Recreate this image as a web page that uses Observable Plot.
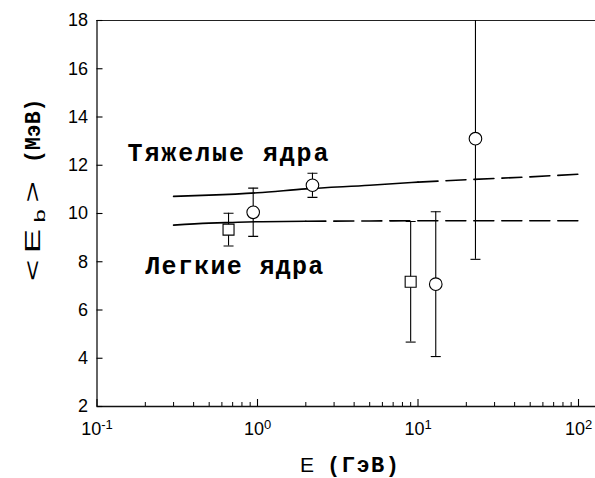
<!DOCTYPE html>
<html>
<head>
<meta charset="utf-8">
<script src="https://cdn.jsdelivr.net/npm/d3@7"></script>
<script src="https://cdn.jsdelivr.net/npm/@observablehq/plot@0.6"></script>
<style>
  html, body { margin: 0; padding: 0; background: #fff; }
  #chart svg { display: block; }
</style>
</head>
<body>
<div id="chart"></div>
<script>
// Model curve for heavy nuclei: solid part, then dashed extrapolation
const heavySolidE = [0.3, 0.5, 1, 2, 5, 10];
const heavySolidV = [10.71, 10.76, 10.86, 11.02, 11.17, 11.30];
const heavyDashE  = [10, 20, 50, 100];
const heavyDashV  = [11.30, 11.40, 11.52, 11.63];

// Model curve for light nuclei
const lightSolidE = [0.3, 0.5, 0.7, 1, 2];
const lightSolidV = [9.52, 9.60, 9.63, 9.66, 9.68];
const lightDashE  = [2, 5, 10, 20, 50, 100];
const lightDashV  = [9.68, 9.69, 9.70, 9.70, 9.70, 9.70];

// Measured mean energies with errors
const pointE     = [0.66, 0.94, 2.2, 9.0, 12.9, 22.8];
const pointV     = [9.33, 10.05, 11.17, 7.17, 7.07, 13.1];
const pointErr   = [0.68, 1.0, 0.5, 2.5, 3.0, 5.0];
const pointShape = ["square", "circle", "circle", "square", "circle", "circle"];

// Curve annotations
const labelText    = ["Тяжелые ядра", "Легкие ядра"];
const labelE       = [0.155, 0.2];
const labelV       = [12.49, 7.84];
const labelSpacing = [1.9, 1.3];

// Axis ticks
const yTicks  = [2, 4, 6, 8, 10, 12, 14, 16, 18];
const xMajor  = [0.1, 1, 10, 100];
const xMinor  = [0.2, 0.3, 0.4, 0.5, 0.6, 0.7, 0.8, 0.9,
                 2, 3, 4, 5, 6, 7, 8, 9,
                 20, 30, 40, 50, 60, 70, 80, 90];

const toRows = (E, V) => E.map((e, i) => ({E: e, v: V[i]}));
const points = pointE.map((e, i) => ({
  E: e, v: pointV[i], lo: pointV[i] - pointErr[i], hi: pointV[i] + pointErr[i], shape: pointShape[i]
}));
const labels = labelText.map((t, i) => ({text: t, E: labelE[i], v: labelV[i]}));

// Horizontal bar used as error-bar cap
const capSymbol = {draw(ctx) { ctx.moveTo(-5, 0); ctx.lineTo(5, 0); }};

const sans = "Arial, 'Liberation Sans', sans-serif";
const mono = "'Courier New', 'Liberation Mono', monospace";

const chart = Plot.plot({
  width: 595,
  height: 478,
  marginLeft: 96.5,
  marginRight: 0,
  marginTop: 20,
  marginBottom: 72,
  style: {background: "#fff", color: "#000", fontFamily: sans},
  x: {type: "log", domain: [0.1, 127.6], axis: null},
  y: {domain: [2, 18], axis: null},
  marks: [
    // frame
    Plot.ruleY([2], {stroke: "#111", strokeWidth: 1.3}),
    Plot.ruleY([18], {stroke: "#222", strokeWidth: 1.2}),
    Plot.ruleX([0.1], {stroke: "#111", strokeWidth: 1.3}),
    // axes with inward ticks
    Plot.axisY(yTicks, {anchor: "left", tickSize: -6, tickPadding: 15, fontSize: 18, label: null, strokeWidth: 1.1}),
    Plot.axisX(xMajor, {anchor: "bottom", tickSize: -7, tickPadding: 23, fontSize: 18, label: null,
                        tickFormat: d => `10^${Math.round(Math.log10(d))}`, strokeWidth: 1.1}),
    Plot.axisX(xMinor, {anchor: "bottom", tickSize: -4, tickFormat: () => "", label: null, strokeWidth: 1}),
    // model curves
    Plot.line(toRows(heavySolidE, heavySolidV), {x: "E", y: "v", curve: "monotone-x", stroke: "#000", strokeWidth: 1.6}),
    Plot.line(toRows(heavyDashE, heavyDashV), {x: "E", y: "v", curve: "monotone-x", stroke: "#000", strokeWidth: 1.6, strokeDasharray: "20,8"}),
    Plot.line(toRows(lightSolidE, lightSolidV), {x: "E", y: "v", curve: "monotone-x", stroke: "#000", strokeWidth: 1.6}),
    Plot.line(toRows(lightDashE, lightDashV), {x: "E", y: "v", curve: "monotone-x", stroke: "#000", strokeWidth: 1.6, strokeDasharray: "20,8"}),
    // error bars
    Plot.ruleX(points, {x: "E", y1: "lo", y2: "hi", stroke: "#000", strokeWidth: 1.1, clip: true}),
    Plot.dot(points, {x: "E", y: "lo", symbol: capSymbol, stroke: "#000", strokeWidth: 1.1, clip: true}),
    Plot.dot(points, {x: "E", y: "hi", symbol: capSymbol, stroke: "#000", strokeWidth: 1.1, clip: true}),
    // markers
    Plot.dot(points.filter(d => d.shape === "circle"), {x: "E", y: "v", symbol: "circle", r: 6.3, fill: "#fff", stroke: "#000", strokeWidth: 1.1}),
    Plot.dot(points.filter(d => d.shape === "square"), {x: "E", y: "v", symbol: "square", r: 6.2, fill: "#fff", stroke: "#000", strokeWidth: 1.1}),
    // annotations
    Plot.text(labels, {x: "E", y: "v", text: "text", textAnchor: "start", fontFamily: mono, fontWeight: "bold",
                       fontSize: 25, fill: "#000"})
  ]
});

document.getElementById("chart").appendChild(chart);
const svg = d3.select(chart);

// Letter spacing of the annotations
svg.selectAll("text").each(function() {
  const i = labelText.indexOf(this.textContent);
  if (i >= 0) this.setAttribute("letter-spacing", labelSpacing[i]);
});

// Power-of-ten tick labels with raised exponents
svg.selectAll('g[aria-label="x-axis tick label"] text').each(function() {
  const t = d3.select(this);
  const s = t.text();
  if (!s.includes("^")) return;
  const [base, exp] = s.split("^");
  t.text(null);
  t.append("tspan").text(base);
  t.append("tspan").attr("dy", "-0.45em").attr("font-size", 13).text(exp);
});

// x axis title
const titles = svg.append("g").attr("text-anchor", "start").attr("fill", "#000");
titles.append("text").attr("x", 300).attr("y", 472)
  .attr("font-family", sans).attr("font-size", 21).text("E");
titles.append("text").attr("x", 327).attr("y", 472)
  .attr("font-family", mono).attr("font-weight", "bold").attr("font-size", 22)
  .attr("letter-spacing", 1.5).text("(ГэВ)");

// y axis title, rotated; the <E_b> part is drawn widened
const yt = titles.append("text").attr("transform", "translate(40,281) rotate(-90) scale(1.65,1)")
  .attr("font-family", sans).attr("font-size", 22).attr("letter-spacing", 4);
yt.append("tspan").text("<E");
yt.append("tspan").attr("dy", 5).attr("font-size", 14.5).text("b");
yt.append("tspan").attr("dy", -5).text(">");
titles.append("text").attr("transform", "translate(40,163) rotate(-90)")
  .attr("font-family", mono).attr("font-weight", "bold").attr("font-size", 21.5)
  .text("(МэВ)");
</script>
</body>
</html>
